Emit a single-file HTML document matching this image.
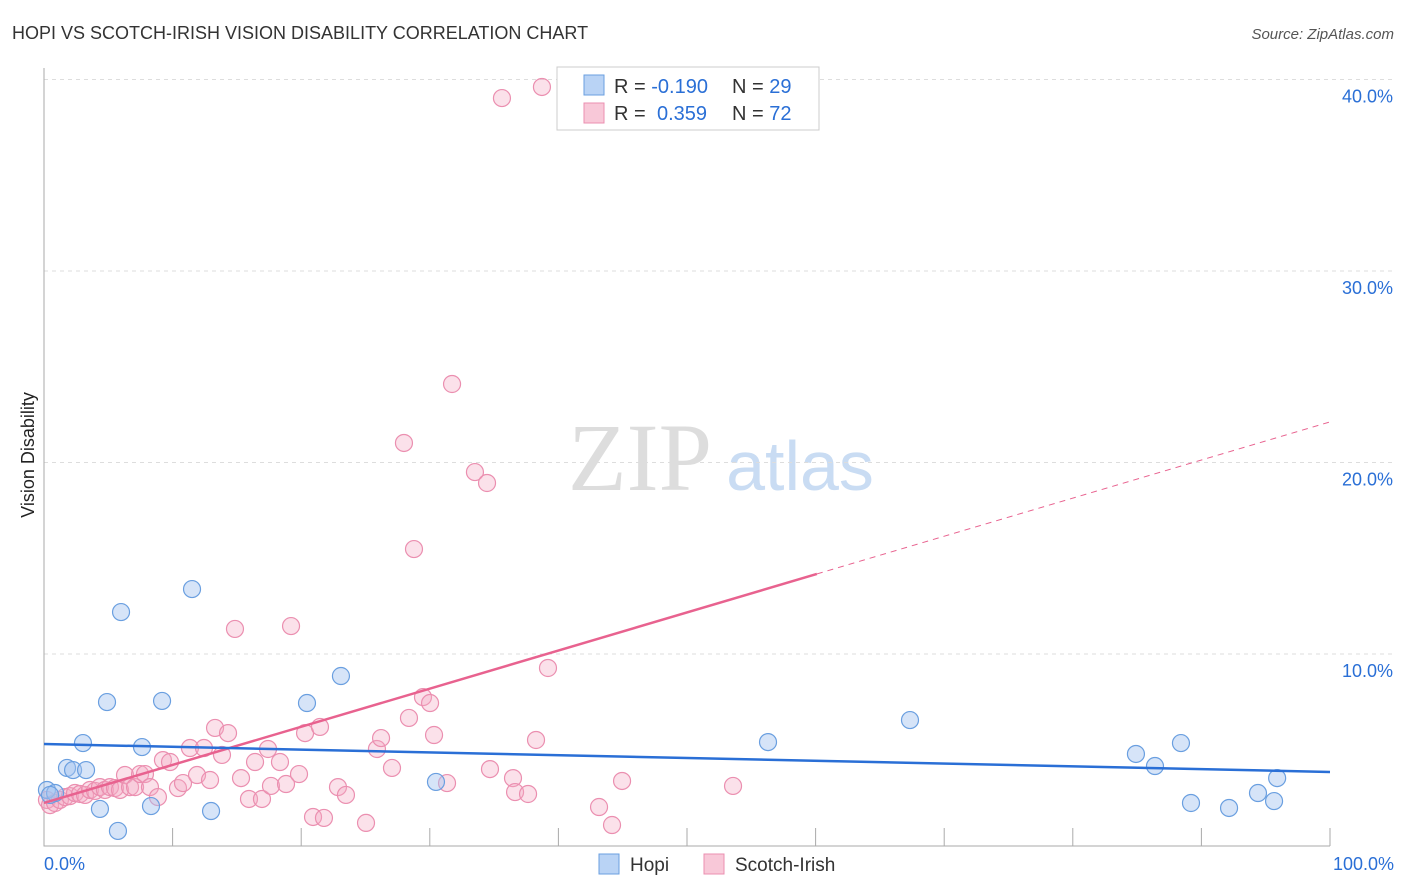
<!DOCTYPE html>
<html><head><meta charset="utf-8"><style>
body{margin:0;background:#fff;font-family:"Liberation Sans",sans-serif}
svg{display:block}
</style></head><body>
<svg id="chart" width="1406" height="892">
<text x="12" y="39" font-size="18" fill="#333">HOPI VS SCOTCH-IRISH VISION DISABILITY CORRELATION CHART</text>
<text x="1394" y="39" font-size="15" fill="#555" font-style="italic" text-anchor="end">Source: ZipAtlas.com</text>
<text x="34" y="455" font-size="18" fill="#222" text-anchor="middle" transform="rotate(-90 34 455)">Vision Disability</text>
<text x="640" y="490" font-size="96" fill="#ddd" font-family="Liberation Serif,serif" text-anchor="middle">ZIP</text>
<text x="800" y="490" font-size="70" fill="#c9dcf3" text-anchor="middle">atlas</text>
<g id="grid"></g><g id="marks"></g>
<g>
<rect x="557" y="67" width="262" height="63" fill="#fff" stroke="#ccc"/>
<rect x="584" y="75" width="20" height="20" fill="#b9d3f5" stroke="#6a9fe0"/>
<rect x="584" y="103" width="20" height="20" fill="#f8c8d8" stroke="#eb8fb0"/>
<text x="614" y="93" font-size="20" fill="#333">R = <tspan fill="#2a6fd6">-0.190</tspan><tspan x="732">N = </tspan><tspan fill="#2a6fd6">29</tspan></text>
<text x="614" y="120" font-size="20" fill="#333">R = <tspan fill="#2a6fd6" x="657">0.359</tspan><tspan x="732">N = </tspan><tspan fill="#2a6fd6">72</tspan></text>
</g>
<g>
<rect x="599" y="854" width="20" height="20" fill="#b9d3f5" stroke="#6a9fe0"/>
<text x="630" y="871" font-size="19" fill="#333">Hopi</text>
<rect x="704" y="854" width="20" height="20" fill="#f8c8d8" stroke="#eb8fb0"/>
<text x="735" y="871" font-size="19" fill="#333">Scotch-Irish</text>
</g>
</svg>
<script>
const hopiX=[0.23,0.86,1.79,3.03,2.26,3.27,4.35,4.90,5.75,5.99,7.62,8.32,9.18,11.51,12.99,20.45,23.09,30.48,56.30,67.34,84.91,86.39,88.41,89.19,92.15,94.40,95.65,95.89,0.47];
const hopiY=[2.90,2.74,4.05,5.35,3.94,3.94,1.91,7.49,0.76,12.19,5.14,2.06,7.55,13.39,1.80,7.44,8.85,3.32,5.40,6.55,4.78,4.15,5.35,2.22,1.96,2.74,2.32,3.52,2.64];
const scotX=[0.23,0.47,0.86,1.24,1.63,2.02,2.41,2.80,3.19,3.58,3.97,4.35,4.74,5.13,5.52,5.91,6.30,6.69,7.08,7.47,7.85,8.24,8.86,9.25,9.80,10.42,10.81,11.35,11.90,12.44,12.91,13.30,13.84,14.31,14.85,15.32,15.94,16.41,16.95,17.42,17.65,18.35,18.82,19.21,19.83,20.30,20.92,21.46,21.77,22.86,23.48,25.04,25.89,26.21,27.06,27.99,28.38,28.77,29.47,30.02,30.33,31.34,31.73,33.51,34.45,34.68,35.61,36.47,36.63,37.64,38.26,38.72,39.19,43.16,44.17,44.95,53.58];
const scotY=[2.38,2.11,2.22,2.38,2.53,2.58,2.74,2.69,2.64,2.90,2.85,3.05,2.90,3.05,3.00,2.90,3.68,3.05,3.05,3.73,3.73,3.05,2.53,4.46,4.36,3.00,3.26,5.09,3.68,5.09,3.42,6.14,4.73,5.87,11.31,3.52,2.43,4.36,2.43,5.04,3.11,4.36,3.21,11.46,3.73,5.87,1.49,6.19,1.44,3.05,2.64,1.18,5.04,5.61,4.05,21.02,6.66,15.48,7.75,7.44,5.77,3.26,24.10,19.50,18.93,3.99,39.03,3.52,2.79,2.69,5.51,39.61,9.27,2.01,1.07,3.37,3.11];
const hopiTrend=[5.30,3.84];
const scotTrend=[2.22,0.199];
const yTicks=[10,20,30,40];
const ns="http://www.w3.org/2000/svg";
const sx=v=>44+v*12.86, sy=v=>845.5-v*19.15;
function mk(t,a,p){const e=document.createElementNS(ns,t);for(const k in a)e.setAttribute(k,a[k]);p.appendChild(e);return e;}
const g=document.getElementById('grid'),m=document.getElementById('marks');
yTicks.forEach(t=>{
 const l=mk('line',{x1:44,x2:1395,y1:sy(t),y2:sy(t),stroke:'#ddd','stroke-dasharray':'4,4'},g);
 
 
 const tx=mk('text',{x:1393,y:sy(t)+23,'font-size':18,fill:'#2a6fd6','text-anchor':'end'},g);
 tx.textContent=t.toFixed(1)+'%';
 
 
});
const ax=mk('path',{d:'M44 68V846H1330',stroke:'#aaa',fill:'none'},g);


for(let i=1;i<=10;i++){const t=mk('line',{x1:sx(i*10),x2:sx(i*10),y1:828,y2:846,stroke:'#aaa'},g);
 
 }
[[0,'0.0%','start',44],[100,'100.0%','end',1394]].forEach(a=>{const t=mk('text',{x:a[3],y:870,'font-size':18,fill:'#2a6fd6','text-anchor':a[2]},g);t.textContent=a[1];
 
 });
scotX.forEach((x,i)=>{const c=mk('circle',{cx:sx(x),cy:sy(scotY[i]),r:8.5,fill:'rgba(244,170,195,0.35)',stroke:'#eb8fb0','stroke-width':1.2},m);
 
 });
hopiX.forEach((x,i)=>{const c=mk('circle',{cx:sx(x),cy:sy(hopiY[i]),r:8.5,fill:'rgba(164,196,240,0.45)',stroke:'#6a9fe0','stroke-width':1.2},m);
 
 });
const xEnd=60.1;
let l1=mk('line',{x1:sx(0),y1:sy(scotTrend[0]),x2:sx(xEnd),y2:sy(scotTrend[0]+scotTrend[1]*xEnd),stroke:'#e8628f','stroke-width':2.5},m);


let l2=mk('line',{x1:sx(xEnd),y1:sy(scotTrend[0]+scotTrend[1]*xEnd),x2:sx(100),y2:sy(scotTrend[0]+scotTrend[1]*100),stroke:'#e8628f','stroke-width':1,'stroke-dasharray':'6,5'},m);


let l3=mk('line',{x1:sx(0),y1:sy(hopiTrend[0]),x2:sx(100),y2:sy(hopiTrend[1]),stroke:'#2a6fd6','stroke-width':2.5},m);


</script>
</body></html>
